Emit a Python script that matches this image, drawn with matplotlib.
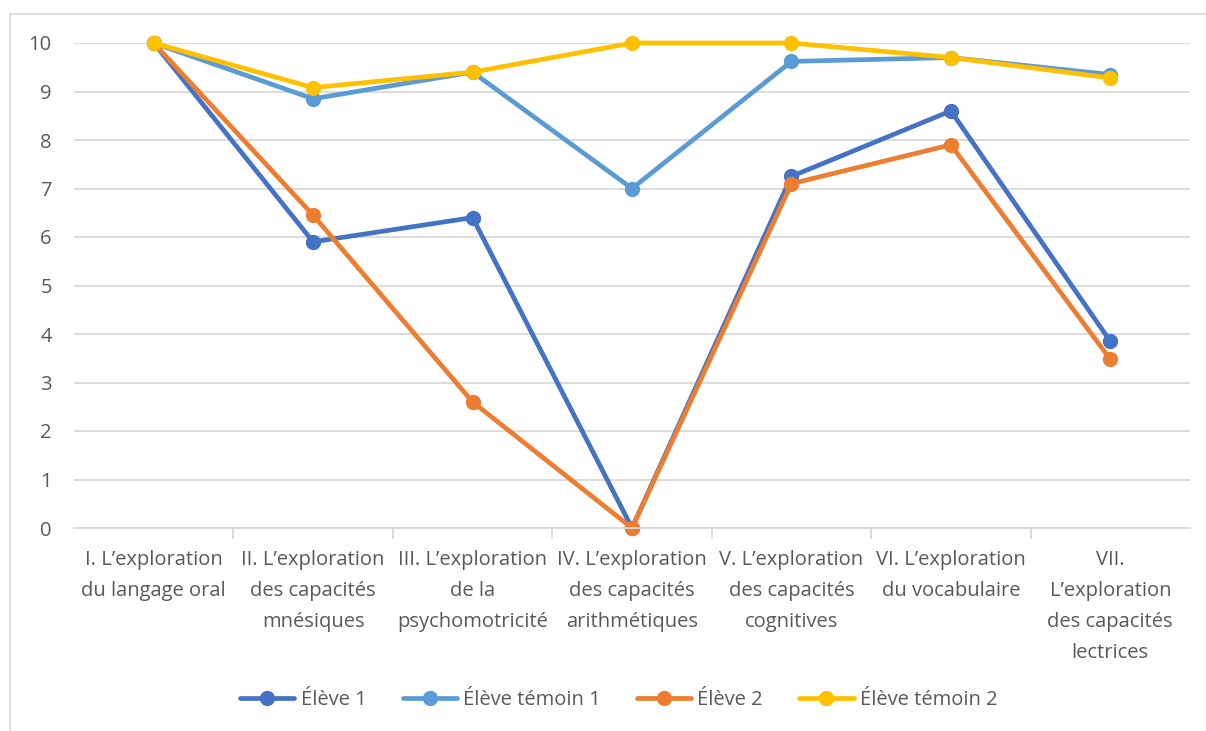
import matplotlib
matplotlib.use("Agg")
import matplotlib.pyplot as plt
from matplotlib.patches import Rectangle

plt.rcParams["font.family"] = ["Open Sans", "DejaVu Sans"]

categories = [
    "I. L’exploration\ndu langage oral",
    "II. L’exploration\ndes capacités\nmnésiques",
    "III. L’exploration\nde la\npsychomotricité",
    "IV. L’exploration\ndes capacités\narithmétiques",
    "V. L’exploration\ndes capacités\ncognitives",
    "VI. L’exploration\ndu vocabulaire",
    "VII.\nL’exploration\ndes capacités\nlectrices",
]
eleve_1 = [10, 5.9, 6.4, 0, 7.25, 8.6, 3.85]
temoin_1 = [10, 8.85, 9.4, 7.0, 9.62, 9.7, 9.35]
eleve_2 = [10, 6.45, 2.6, 0, 7.1, 7.9, 3.48]
temoin_2 = [10, 9.08, 9.4, 10, 10, 9.7, 9.28]

series = [
    ("Élève 1", eleve_1, "#4472C4"),
    ("Élève témoin 1", temoin_1, "#5B9BD5"),
    ("Élève 2", eleve_2, "#ED7D31"),
    ("Élève témoin 2", temoin_2, "#FFC000"),
]

TEXT = "#595959"
GRID = "#D9D9D9"
FS = 14.5

fig = plt.figure(figsize=(12.06, 7.31), dpi=100)
# chart frame
fig.patches.append(Rectangle((10 / 1206, -0.1), 1.2, 1 - 14 / 731 + 0.1,
                             transform=fig.transFigure, fill=False,
                             edgecolor=GRID, lw=1.2))
ax = fig.add_axes([74 / 1206, 1 - 528 / 731, (1190 - 74) / 1206, (528 - 43) / 731])

x = list(range(len(categories)))
for name, vals, color in series:
    ax.plot(x, vals, color=color, lw=3.4, marker="o", ms=10,
            solid_capstyle="round", label=name, clip_on=False)

ax.set_xlim(-0.5, len(categories) - 0.5)
ax.set_ylim(0, 10)
ax.set_yticks(range(0, 11))
ax.yaxis.grid(True, color=GRID, lw=1.3)
ax.set_axisbelow(True)
for s in ["top", "right", "left"]:
    ax.spines[s].set_visible(False)
ax.spines["bottom"].set_color(GRID)
ax.spines["bottom"].set_linewidth(1.3)

ax.set_xticks(x)
ax.set_xticklabels(categories, fontsize=FS, color=TEXT, linespacing=1.72)
ax.tick_params(axis="x", length=0, pad=16)
ax.set_xticks([i + 0.5 for i in x[:-1]], minor=True)
ax.tick_params(axis="x", which="minor", length=8, color=GRID, width=1.3)
ax.tick_params(axis="y", length=0, pad=16, labelsize=FS, labelcolor=TEXT)

fig.legend(loc="center", bbox_to_anchor=(0.513, 1 - 700 / 731), ncol=4,
           frameon=False, fontsize=FS, labelcolor=TEXT, handlelength=2.7,
           columnspacing=1.8, handletextpad=0.3)

fig.savefig("out.png", dpi=100)
